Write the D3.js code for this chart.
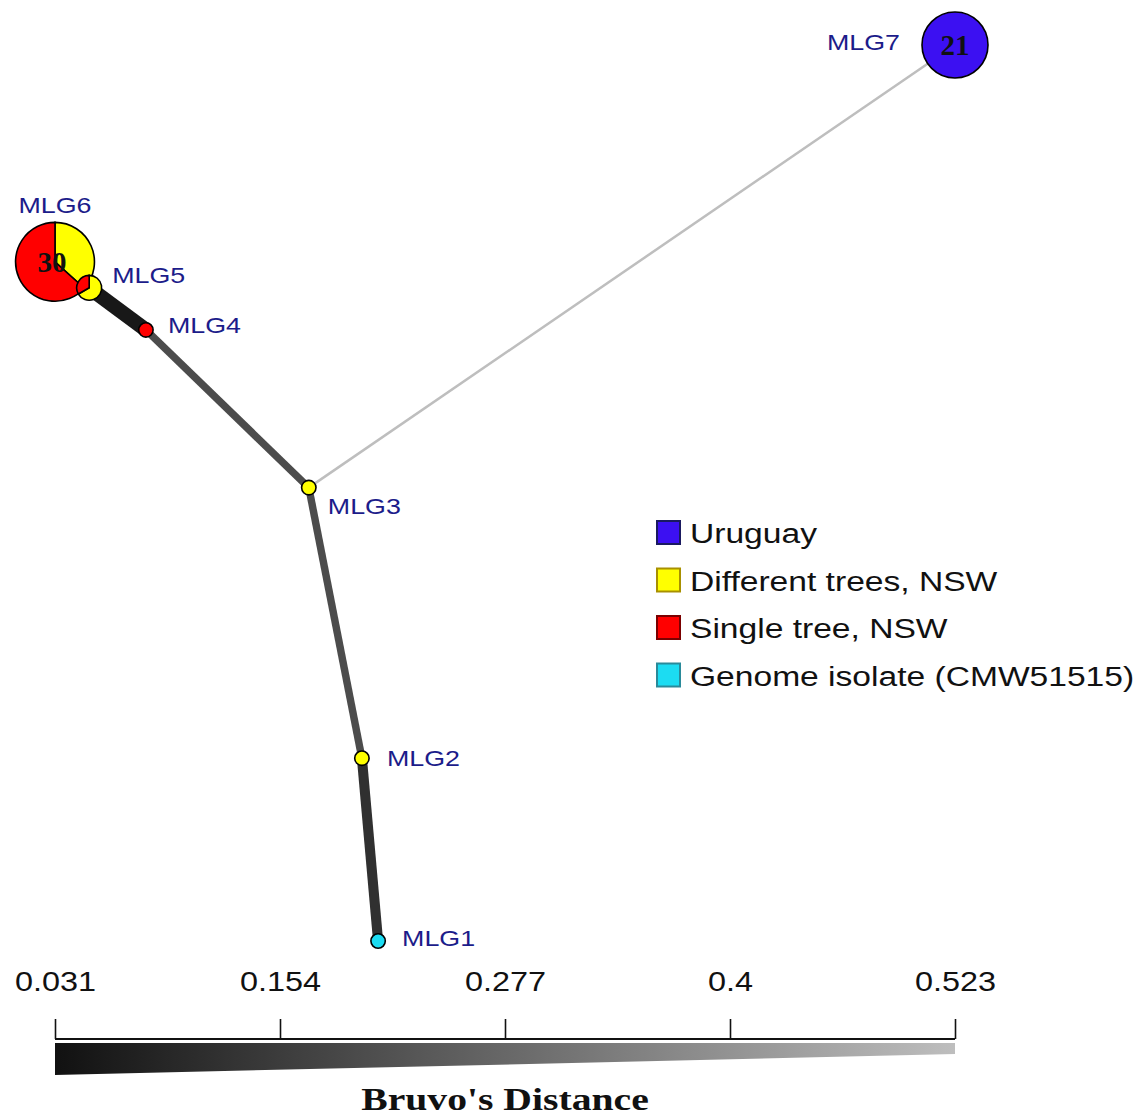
<!DOCTYPE html>
<html>
<head>
<meta charset="utf-8">
<script src="https://cdn.jsdelivr.net/npm/d3@7"></script>
<style>
body { margin: 0; background: #fff; }
</style>
</head>
<body>
<div id="chart"></div>
<script>
// nodes (layout coords 0..1) and counts per population
var nodeNames = ["MLG1","MLG2","MLG3","MLG4","MLG5","MLG6","MLG7"];
var nodeX = [0.359, 0.341, 0.282, 0.101, 0.038, 0.000, 1.000];
var nodeY = [1.000, 0.796, 0.494, 0.318, 0.271, 0.242, 0.000];
// counts: [Uruguay, Different trees, Single tree, Genome isolate]
var countUruguay   = [0, 0, 0, 0, 0, 0, 21];
var countDifferent = [0, 1, 1, 0, 2, 11, 0];
var countSingle    = [0, 0, 0, 1, 1, 19, 0];
var countGenome    = [1, 0, 0, 0, 0, 0, 0];

// edges: source, target, Bruvo's distance
var edgeFrom = ["MLG6","MLG5","MLG4","MLG3","MLG2","MLG3"];
var edgeTo   = ["MLG5","MLG4","MLG3","MLG2","MLG1","MLG7"];
var edgeDist = [0.031, 0.05, 0.2, 0.2, 0.12, 0.523];

var legendLabels = ["Uruguay","Different trees, NSW","Single tree, NSW","Genome isolate (CMW51515)"];
var popColors = ["#3c10f2","#ffff00","#ff0000","#1cdcf2"];
var popStrokes = ["#1a1a60","#a89000","#7a0000","#2a8a9a"];
var distTicks = [0.031, 0.154, 0.277, 0.4, 0.523];

var width = 1143, height = 1119;
var svg = d3.select("#chart").append("svg")
	.attr("width", width)
	.attr("height", height);

var x = d3.scaleLinear().domain([0, 1]).range([55, 955]);
var y = d3.scaleLinear().domain([0, 1]).range([45, 941]);
var r = d3.scaleSqrt().domain([0, 21]).range([0, 33]);
var distX = d3.scaleLinear().domain([0.031, 0.523]).range([55, 955]);
var edgeColor = d3.scaleLinear().domain([0.031, 0.523]).range(["#111111", "#bebebe"]);
var edgeWidth = d3.scaleLog().domain([0.031, 0.523]).range([17, 2.5]);
var barHeight = d3.scaleLinear().domain([0.031, 0.523]).range([32, 11]);

// text in the figure is stretched sideways
function stretch(sel, k) {
	sel.each(function() {
		var t = d3.select(this);
		var tx = +t.attr("x") || 0, ty = +t.attr("y") || 0;
		t.attr("x", 0).attr("y", 0)
			.attr("transform", "translate(" + tx + "," + ty + ") scale(" + k + ",1)");
	});
}

var nodes = nodeNames.map(function(n, i) {
	return {
		name: n, x: x(nodeX[i]), y: y(nodeY[i]),
		counts: [countUruguay[i], countDifferent[i], countSingle[i], countGenome[i]]
	};
});
nodes.forEach(function(d) { d.total = d3.sum(d.counts); });
var byName = {};
nodes.forEach(function(d) { byName[d.name] = d; });

var edges = edgeFrom.map(function(f, i) {
	return { s: byName[f], t: byName[edgeTo[i]], d: edgeDist[i] };
});

// edges
svg.selectAll("line.edge")
	.data(edges)
	.enter().append("line")
		.attr("class", "edge")
		.attr("x1", function(d) { return d.s.x; })
		.attr("y1", function(d) { return d.s.y; })
		.attr("x2", function(d) { return d.t.x; })
		.attr("y2", function(d) { return d.t.y; })
		.attr("stroke", function(d) { return edgeColor(d.d); })
		.attr("stroke-width", function(d) { return edgeWidth(d.d); });

// nodes as pies, draw big ones first
var pie = d3.pie().sort(null);
var arc = d3.arc().innerRadius(0);
var order = [1, 0, 2, 3]; // yellow then red etc.

var g = svg.selectAll("g.node")
	.data(nodes.slice().sort(function(a, b) { return b.total - a.total; }))
	.enter().append("g")
		.attr("class", "node")
		.attr("transform", function(d) { return "translate(" + d.x + "," + d.y + ")"; });

g.each(function(d) {
	var sel = d3.select(this);
	var rad = r(d.total);
	var vals = order.map(function(k) { return d.counts[k]; });
	var parts = pie(vals).filter(function(p) { return p.value > 0; });
	if (parts.length == 1) {
		sel.append("circle")
			.attr("r", rad)
			.attr("fill", popColors[order[parts[0].index]])
			.attr("stroke", "#000")
			.attr("stroke-width", 1.6);
	} else {
		sel.selectAll("path")
			.data(parts)
			.enter().append("path")
				.attr("d", function(p) { return arc.outerRadius(rad)(p); })
				.attr("fill", function(p) { return popColors[order[p.index]]; })
				.attr("stroke", "#000")
				.attr("stroke-width", 1.6);
	}
	if (d.total > 5) {
		sel.append("text")
			.attr("text-anchor", "middle")
			.attr("dy", "0.35em")
			.attr("x", d.name == "MLG6" ? -3 : 0)
			.attr("font-family", "Liberation Serif, Times New Roman, serif")
			.attr("font-weight", "bold")
			.attr("font-size", 29)
			.attr("fill", "#111")
			.text(d.total);
	}
});

// labels
var labelPos = {
	MLG1: [24, 5, "start"], MLG2: [25, 8, "start"], MLG3: [19, 26, "start"],
	MLG4: [22, 3, "start"], MLG5: [23, -5, "start"], MLG6: [0, -49, "middle"],
	MLG7: [-55, 5, "end"]
};
svg.selectAll("text.lab")
	.data(nodes)
	.enter().append("text")
		.attr("class", "lab")
		.attr("x", function(d) { return d.x + labelPos[d.name][0]; })
		.attr("y", function(d) { return d.y + labelPos[d.name][1]; })
		.attr("text-anchor", function(d) { return labelPos[d.name][2]; })
		.attr("font-family", "Liberation Sans, Arial, sans-serif")
		.attr("font-size", 22)
		.attr("fill", "#1c1c8a")
		.text(function(d) { return d.name; })
		.call(stretch, 1.22);

// legend
var leg = svg.selectAll("g.leg")
	.data(legendLabels)
	.enter().append("g")
		.attr("class", "leg")
		.attr("transform", function(d, i) { return "translate(657," + (521 + i * 47.5) + ")"; });
leg.append("rect")
	.attr("width", 23).attr("height", 23)
	.attr("fill", function(d, i) { return popColors[i]; })
	.attr("stroke", function(d, i) { return popStrokes[i]; })
	.attr("stroke-width", 2);
leg.append("text")
	.attr("x", 33).attr("y", 22)
	.attr("font-family", "Liberation Sans, Arial, sans-serif")
	.attr("font-size", 28)
	.attr("fill", "#111")
	.text(function(d) { return d; })
	.call(stretch, 1.2);

// distance scale bar
var axis = d3.axisTop(distX)
	.tickValues(distTicks)
	.tickFormat(function(d) { return String(d); })
	.tickSize(20)
	.tickPadding(28);
var ax = svg.append("g")
	.attr("transform", "translate(0,1039)")
	.call(axis);
ax.select(".domain").attr("stroke", "#111").attr("stroke-width", 2).attr("d", "M55,0H955");
ax.selectAll(".tick line").attr("stroke", "#111").attr("stroke-width", 1.6);
ax.selectAll(".tick text")
	.attr("dy", 0)
	.attr("font-family", "Liberation Sans, Arial, sans-serif")
	.attr("font-size", 27)
	.attr("fill", "#111")
	.call(stretch, 1.2);

var grad = svg.append("defs").append("linearGradient")
	.attr("id", "bruvo")
	.attr("x1", "0%").attr("x2", "100%");
grad.append("stop").attr("offset", "0%").attr("stop-color", edgeColor(0.031));
grad.append("stop").attr("offset", "100%").attr("stop-color", edgeColor(0.523));

var d0 = distTicks[0], d1 = distTicks[distTicks.length - 1];
var area = d3.area()
	.x(function(d) { return distX(d); })
	.y0(1043)
	.y1(function(d) { return 1043 + barHeight(d); });
svg.append("path")
	.attr("d", area([d0, d1]))
	.attr("fill", "url(#bruvo)");

svg.append("text")
	.attr("x", 505)
	.attr("y", 1110)
	.attr("text-anchor", "middle")
	.attr("font-family", "Liberation Serif, Times New Roman, serif")
	.attr("font-weight", "bold")
	.attr("font-size", 31)
	.attr("fill", "#111")
	.text("Bruvo's Distance")
	.call(stretch, 1.28);
</script>
</body>
</html>
